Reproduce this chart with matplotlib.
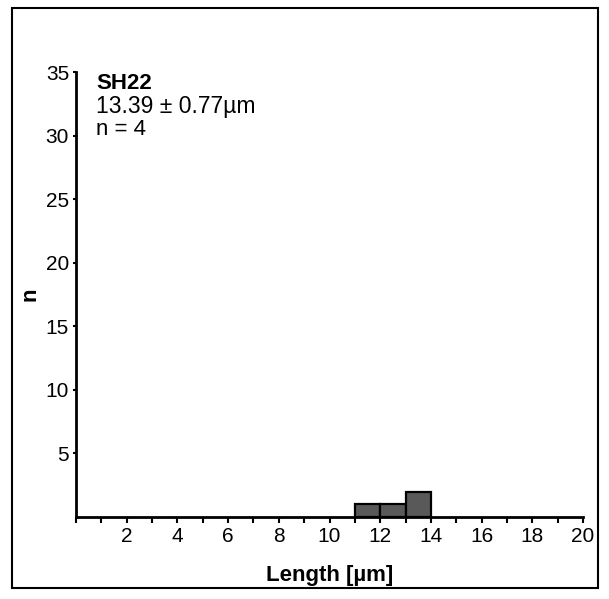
import matplotlib
matplotlib.use("Agg")
import matplotlib.pyplot as plt
from matplotlib.patches import Rectangle

bin_edges = [11, 12, 13, 14]
counts = [1, 1, 2]
x_ticks = [2, 4, 6, 8, 10, 12, 14, 16, 18, 20]
y_ticks = [5, 10, 15, 20, 25, 30, 35]
sample = "SH22"
stat_text = "13.39 ± 0.77µm"
n_text = "n = 4"

plt.rcParams['font.family'] = ['Liberation Sans', 'DejaVu Sans']

fig = plt.figure(figsize=(6.09, 5.99), dpi=100)
ax = fig.add_axes([76/609, 1-517/599, (583-76)/609, (517-72)/599])

lefts = bin_edges[:-1]
widths = [b - a for a, b in zip(bin_edges[:-1], bin_edges[1:])]
ax.bar(lefts, counts, width=widths, align='edge', color='#595959',
       edgecolor='black', linewidth=1.6, zorder=3)

ax.set_xlim(0, 20)
ax.set_ylim(0, 35)
ax.set_xticks(x_ticks)
ax.set_xticks(range(0, 21), minor=True)
ax.set_yticks(y_ticks)
ax.tick_params(axis='both', which='both', direction='out', length=4, width=1.5,
               labelsize=15, pad=3, color='black')
ax.tick_params(axis='y', length=2)
for s in ['top', 'right']:
    ax.spines[s].set_visible(False)
for s in ['left', 'bottom']:
    ax.spines[s].set_linewidth(2)

ax.set_xlabel("Length [µm]", fontsize=16, fontweight='bold', labelpad=14)
ax.set_ylabel("n", fontsize=16, fontweight='bold', labelpad=4)

ax.text(0.04, 0.975, sample, transform=ax.transAxes, fontsize=16,
        fontweight='bold', va='center', ha='left')
ax.text(0.04, 0.923, stat_text, transform=ax.transAxes, fontsize=16.5,
        va='center', ha='left')
ax.text(0.04, 0.871, n_text, transform=ax.transAxes, fontsize=16,
        va='center', ha='left')

fig.patches.append(Rectangle((12/609, 1-588/599), (598-12)/609, (588-8)/599,
                             transform=fig.transFigure, fill=False,
                             edgecolor='black', linewidth=1.5))

fig.savefig("out.png", dpi=100)
